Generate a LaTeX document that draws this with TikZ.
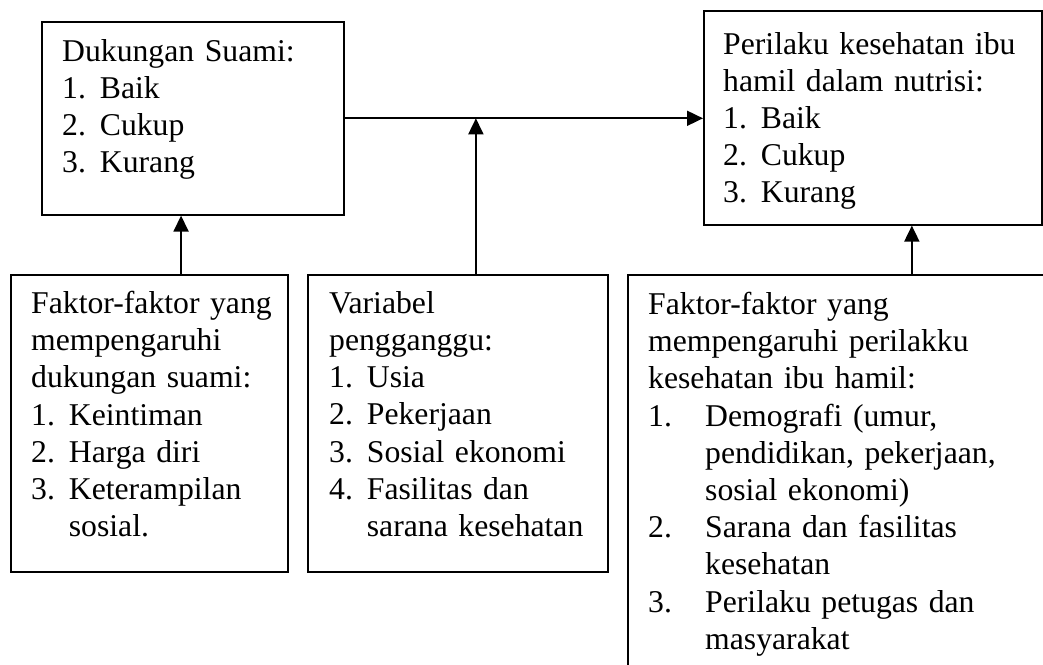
\documentclass[tikz,border=0pt]{standalone}
\usepackage{fontspec}
\setmainfont{Liberation Serif}
\usetikzlibrary{arrows.meta,positioning,calc}
\setlength{\parindent}{0pt}
\newcommand{\numitem}[3][37.7pt]{\par\hangindent=#1\hangafter=1\noindent\makebox[#1][l]{#2}#3\par}

\begin{document}
\begin{tikzpicture}[
    x=1pt, y=-1pt,
    frame/.style={rectangle, draw, line width=1.6pt, anchor=north west, inner sep=0pt},
    txt/.style={anchor=north west, inner sep=0pt, align=left,
                font={\fontsize{31.7}{37.2}\selectfont}},
    arr/.style={-{Triangle[length=16pt,width=15pt]}, line width=1.8pt},
]
\path[use as bounding box, clip] (0,0) rectangle (1043,664);

% --- Top row: dependent variables
\node[frame, minimum width=302pt, minimum height=193pt] (sup) at (41,21) {};
\node[txt, text width=270pt] (sup-t) at (62,39)
    {Dukungan Suami:
     \numitem{1.}{Baik}
     \numitem{2.}{Cukup}
     \numitem{3.}{Kurang}};
\node[frame, minimum width=338pt, minimum height=214pt] (per) at (703,10) {};
\node[txt, text width=310pt] (per-t) at (723,32)
    {Perilaku kesehatan ibu\\hamil dalam nutrisi:
     \numitem{1.}{Baik}
     \numitem{2.}{Cukup}
     \numitem{3.}{Kurang}};

% --- Bottom row: influencing factors
\node[frame, minimum width=277pt, minimum height=297pt] (fsup) at (10,274) {};
\node[txt, text width=256pt] (fsup-t) at (31,291)
    {Faktor-faktor yang\\mempengaruhi\\dukungan suami:
     \numitem{1.}{Keintiman}
     \numitem{2.}{Harga diri}
     \numitem{3.}{Keterampilan\newline sosial.}};
\node[frame, minimum width=300pt, minimum height=297pt] (var) at (307,274) {};
\node[txt, text width=270pt] (var-t) at (329,291)
    {Variabel\\pengganggu:
     \numitem{1.}{Usia}
     \numitem{2.}{Pekerjaan}
     \numitem{3.}{Sosial ekonomi}
     \numitem{4.}{Fasilitas dan\newline sarana kesehatan}};
\node[frame, minimum width=430pt, minimum height=410pt] (fper) at (627,274) {};
\node[txt, text width=380pt] (fper-t) at (648,292)
    {Faktor-faktor yang\\mempengaruhi perilakku\\kesehatan ibu hamil:
     \numitem[57pt]{1.}{Demografi (umur,\newline pendidikan, pekerjaan,\newline sosial ekonomi)}
     \numitem[57pt]{2.}{Sarana dan fasilitas\newline kesehatan}
     \numitem[57pt]{3.}{Perilaku petugas dan\newline masyarakat}};

% --- Connectors
\draw[arr] (sup.east) -- (sup.east -| per.west);
\coordinate (a1) at ($(fsup.north west)!0.614!(fsup.north east)$);
\draw[arr] (a1) -- (a1 |- sup.south);
\coordinate (a2) at ($(var.north west)!0.56!(var.north east)$);
\draw[arr] (a2) -- (a2 |- sup.east);
\coordinate (a3) at ($(per.south west)!0.615!(per.south east)$);
\draw[arr] (a3 |- fper.north) -- (a3);
\end{tikzpicture}
\end{document}
